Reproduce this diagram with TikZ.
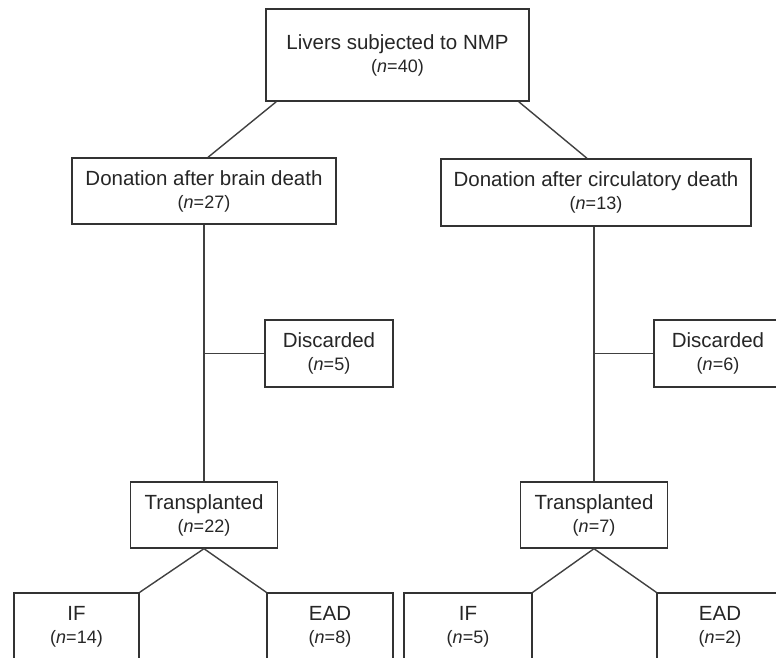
\documentclass[tikz,border=0pt]{standalone}
\usepackage{fontspec}
\setmainfont{Liberation Sans}
\usetikzlibrary{calc}
\newcommand{\boxlab}[2]{#1\\{\fontsize{18}{23}\selectfont(\textit{n}=#2)}}
\begin{document}
\begin{tikzpicture}[x=1pt,y=-1pt,
  box/.style={draw=black!80, line width=1.4pt, fill=white, align=center, inner sep=0pt,
    text=black!85, font=\fontsize{20.5}{23}\selectfont},
  link/.style={draw=black!75, line width=1.4pt}]
\useasboundingbox (0,0) rectangle (776,658);
\clip (0,0) rectangle (776,658);
% boxes
\node[box, minimum width=263pt, minimum height=92pt] (top) at (397.5,55) {\boxlab{Livers subjected to NMP}{40}};
\node[box, minimum width=264pt, minimum height=66pt] (dbd) at (204,191) {\boxlab{Donation after brain death}{27}};
\node[box, minimum width=310pt, minimum height=67pt] (dcd) at (596,192.5) {\boxlab{Donation after circulatory death}{13}};
\node[box, minimum width=128pt, minimum height=67pt] (disc1) at (329,353.5) {\boxlab{Discarded}{5}};
\node[box, minimum width=128pt, minimum height=67pt] (disc2) at (718,353.5) {\boxlab{Discarded}{6}};
\node[box, minimum width=147pt, minimum height=66pt] (tr1) at (204,515) {\boxlab{Transplanted}{22}};
\node[box, minimum width=147pt, minimum height=66pt] (tr2) at (594,515) {\boxlab{Transplanted}{7}};
\node[box, minimum width=125pt, minimum height=67pt] (if1) at (76.5,626.5) {\boxlab{IF}{14}};
\node[box, minimum width=126pt, minimum height=67pt] (ead1) at (330,626.5) {\boxlab{EAD}{8}};
\node[box, minimum width=128pt, minimum height=67pt] (if2) at (468,626.5) {\boxlab{IF}{5}};
\node[box, minimum width=126pt, minimum height=67pt] (ead2) at (720,626.5) {\boxlab{EAD}{2}};
% connectors
\draw[link] ($(top.south west)+(11,0)$) -- ($(dbd.north)+(4,0)$);
\draw[link] ($(top.south east)+(-11,0)$) -- ($(dcd.north)+(-9,0)$);
\draw[link] (dbd.south) -- (tr1.north);
\draw[link] (dcd.south -| tr2.north) -- (tr2.north);
\draw[link] (disc1.west) -- (disc1.west -| dbd.south);
\draw[link] (disc2.west) -- (disc2.west -| tr2.north);
\draw[link] (if1.north east) -- (tr1.south) -- (ead1.north west);
\draw[link] (if2.north east) -- (tr2.south) -- (ead2.north west);
\end{tikzpicture}
\end{document}
